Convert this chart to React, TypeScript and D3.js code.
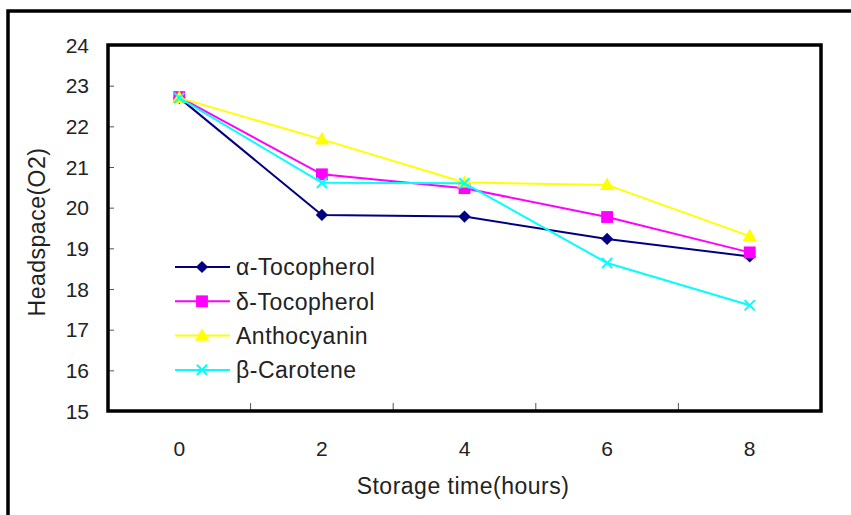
import React, { useEffect, useRef } from 'react';
import * as d3 from 'd3';

// chart data
const hours = ['0', '2', '4', '6', '8'];
const alphaTocopherol = [22.7, 19.82, 19.78, 19.23, 18.8];
const deltaTocopherol = [22.72, 20.82, 20.48, 19.77, 18.9];
const anthocyanin = [22.7, 21.68, 20.62, 20.56, 19.3];
const betaCarotene = [22.7, 20.61, 20.6, 18.64, 17.6];
const yTicks = [15, 16, 17, 18, 19, 20, 21, 22, 23, 24];

const seriesNames = ['α-Tocopherol', 'δ-Tocopherol', 'Anthocyanin', 'β-Carotene'];
const seriesValues = [alphaTocopherol, deltaTocopherol, anthocyanin, betaCarotene];
const seriesColors = ['#000080', '#ff00ff', '#ffff00', '#00ffff'];
const seriesSymbols = ['diamond', 'square', 'triangle', 'cross'];

const FONT = '"Liberation Sans", Arial, sans-serif';

const App = () => {
  const svgRef = useRef<SVGSVGElement>(null);

  useEffect(() => {
    const width = 851;
    const height = 515;
    const plot = { left: 108, right: 821, top: 45, bottom: 411 };

    const svg = d3.select(svgRef.current);
    svg.selectAll('*').remove();
    svg.attr('width', width).attr('height', height);

    svg.append('rect')
      .attr('width', width)
      .attr('height', height)
      .attr('fill', '#fff');

    // outer frame (only left and top edges are visible)
    svg.append('path')
      .attr('d', `M8,${height} L8,11 L${width},11`)
      .attr('fill', 'none')
      .attr('stroke', '#000')
      .attr('stroke-width', 3.5);

    const x = d3.scaleBand()
      .domain(hours)
      .range([plot.left, plot.right]);

    const y = d3.scaleLinear()
      .domain([15, 24])
      .range([plot.bottom, plot.top]);

    const cx = (h: string) => (x(h) as number) + x.bandwidth() / 2;

    // y ticks, inside the plot
    const yAxis = svg.append('g')
      .attr('transform', `translate(${plot.left},0)`)
      .call(d3.axisRight(y).tickValues(yTicks).tickSize(6).tickFormat(() => ''));
    yAxis.select('.domain').remove();
    yAxis.selectAll('line').attr('stroke', '#555');

    svg.append('g')
      .selectAll('text')
      .data(yTicks)
      .enter().append('text')
      .attr('x', 89)
      .attr('y', d => y(d))
      .attr('dy', '0.36em')
      .attr('text-anchor', 'end')
      .attr('font-family', FONT)
      .attr('font-size', 21)
      .attr('fill', '#222')
      .text(d => d);

    // x ticks sit between categories, pointing up
    const xTicks = hours.slice(1).map(h => x(h) as number);
    svg.append('g')
      .selectAll('line')
      .data(xTicks)
      .enter().append('line')
      .attr('x1', d => d)
      .attr('x2', d => d)
      .attr('y1', plot.bottom)
      .attr('y2', plot.bottom - 8)
      .attr('stroke', '#555');

    svg.append('g')
      .selectAll('text')
      .data(hours)
      .enter().append('text')
      .attr('x', d => cx(d))
      .attr('y', 456)
      .attr('text-anchor', 'middle')
      .attr('font-family', FONT)
      .attr('font-size', 21)
      .attr('fill', '#222')
      .text(d => d);

    // plot frame
    svg.append('rect')
      .attr('x', plot.left)
      .attr('y', plot.top)
      .attr('width', plot.right - plot.left)
      .attr('height', plot.bottom - plot.top)
      .attr('fill', 'none')
      .attr('stroke', '#000')
      .attr('stroke-width', 3.5);

    const symbolType = (s: string) =>
      s === 'diamond' || s === 'square' ? d3.symbolSquare :
      s === 'triangle' ? d3.symbolTriangle : d3.symbolTimes;
    const symbolSize = (s: string) =>
      s === 'diamond' ? 75 : s === 'square' ? 140 : s === 'triangle' ? 90 : 70;

    const drawMarker = (g: any, s: string, color: string, px: number, py: number) => {
      const sym = d3.symbol().type(symbolType(s)).size(symbolSize(s));
      const rot = s === 'diamond' ? ' rotate(45)' : '';
      const p = g.append('path')
        .attr('d', sym())
        .attr('transform', `translate(${px},${py + (s === 'triangle' ? 1 : 0)})${rot}`);
      if (s === 'cross') {
        p.attr('fill', 'none').attr('stroke', color).attr('stroke-width', 2);
      } else {
        p.attr('fill', color);
      }
    };

    const line = d3.line<number>()
      .x((_, i) => cx(hours[i]))
      .y(d => y(d));

    seriesValues.forEach((vals, si) => {
      const g = svg.append('g');
      g.append('path')
        .attr('d', line(vals))
        .attr('fill', 'none')
        .attr('stroke', seriesColors[si])
        .attr('stroke-width', 2);
      vals.forEach((v, i) => drawMarker(g, seriesSymbols[si], seriesColors[si], cx(hours[i]), y(v)));
    });

    // legend
    const legend = svg.append('g');
    seriesNames.forEach((name, si) => {
      const ly = 267 + si * 34.3;
      legend.append('line')
        .attr('x1', 175)
        .attr('x2', 230)
        .attr('y1', ly)
        .attr('y2', ly)
        .attr('stroke', seriesColors[si])
        .attr('stroke-width', 2);
      drawMarker(legend, seriesSymbols[si], seriesColors[si], 202, ly);
      legend.append('text')
        .attr('x', 236)
        .attr('y', ly)
        .attr('dy', '0.36em')
        .attr('font-family', FONT)
        .attr('font-size', 23)
        .attr('letter-spacing', 0.5)
        .attr('fill', '#222')
        .text(name);
    });

    // axis titles
    svg.append('text')
      .attr('x', 463)
      .attr('y', 494)
      .attr('text-anchor', 'middle')
      .attr('font-family', FONT)
      .attr('font-size', 23)
      .attr('letter-spacing', 0.5)
      .attr('fill', '#222')
      .text('Storage time(hours)');

    svg.append('text')
      .attr('transform', 'translate(45,232) rotate(-90)')
      .attr('text-anchor', 'middle')
      .attr('font-family', FONT)
      .attr('font-size', 23)
      .attr('letter-spacing', 0.5)
      .attr('fill', '#222')
      .text('Headspace(O2)');
  }, []);

  return (
    <div style={{ position: 'absolute', left: 0, top: 0 }}>
      <svg ref={svgRef} style={{ display: 'block' }}></svg>
    </div>
  );
};

export default App;
